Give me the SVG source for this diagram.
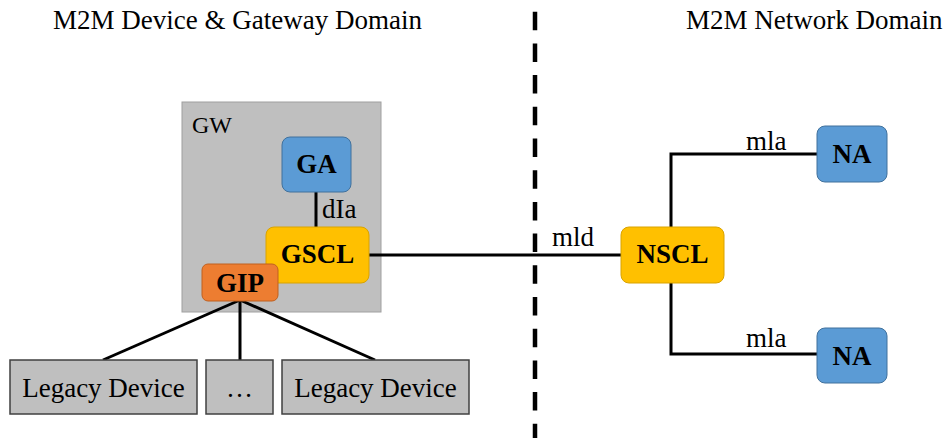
<svg xmlns="http://www.w3.org/2000/svg" width="946" height="438" viewBox="0 0 946 438">
  <style>
    text { font-family: "Liberation Serif", "Times New Roman", serif; fill: #000; }
    .title { font-size: 27px; }
    .lbl { font-size: 27px; }
    .bold { font-size: 27px; font-weight: bold; text-anchor: middle; }
    .dev { font-size: 27px; text-anchor: middle; }
    .wire { stroke: #000; stroke-width: 3; fill: none; }
    .blue { fill: #5B9BD5; stroke: #41719C; stroke-width: 1; }
    .gold { fill: #FFC000; stroke: #D9A300; stroke-width: 1; }
    .orange { fill: #ED7D31; stroke: #C0601F; stroke-width: 1; }
    .legacy { fill: #BFBFBF; stroke: #404040; stroke-width: 1.5; }
  </style>

  <rect width="946" height="438" fill="#fff"/>

  <!-- domain titles -->
  <text class="title" x="53" y="29">M2M Device &amp; Gateway Domain</text>
  <text class="title" x="686" y="29">M2M Network Domain</text>

  <!-- domain boundary -->
  <line x1="535" y1="11.7" x2="535" y2="438" stroke="#000" stroke-width="4.5" stroke-dasharray="18.5 13.2"/>

  <!-- gateway container -->
  <g id="gw">
    <rect x="182" y="102" width="199" height="210" fill="#BFBFBF" stroke="#A0A0A0" stroke-width="1"/>
    <text x="192" y="133" style="font-size:24px">GW</text>
  </g>

  <!-- connectors -->
  <g id="connectors">
    <line class="wire" x1="316" y1="192" x2="316" y2="228" stroke-width="2.5"/>
    <line class="wire" x1="369" y1="255" x2="621" y2="255"/>
    <polyline class="wire" points="671,228 671,154 817,154"/>
    <polyline class="wire" points="671,283 671,354 817,354"/>
    <line class="wire" x1="240" y1="300" x2="103" y2="360"/>
    <line class="wire" x1="240" y1="300" x2="240" y2="360"/>
    <line class="wire" x1="240" y1="300" x2="375" y2="360"/>
    <text class="lbl" x="322" y="218">dIa</text>
    <text class="lbl" x="552" y="246">mld</text>
    <text class="lbl" x="746" y="150">mla</text>
    <text class="lbl" x="746" y="347">mla</text>
  </g>

  <g id="ga">
    <rect class="blue" x="282" y="137" width="69" height="55" rx="8"/>
    <text class="bold" x="316.5" y="173">GA</text>
  </g>

  <g id="gscl">
    <rect class="gold" x="266" y="227" width="103" height="56" rx="8"/>
    <text class="bold" x="317.5" y="263">GSCL</text>
  </g>

  <g id="gip">
    <rect class="orange" x="202" y="264" width="76" height="37" rx="6"/>
    <text class="bold" x="240" y="292">GIP</text>
  </g>

  <g id="nscl">
    <rect class="gold" x="621" y="227" width="103" height="56" rx="8"/>
    <text class="bold" x="672.5" y="263">NSCL</text>
  </g>

  <g id="na-top">
    <rect class="blue" x="817" y="126" width="70" height="56" rx="8"/>
    <text class="bold" x="852" y="163">NA</text>
  </g>

  <g id="na-bottom">
    <rect class="blue" x="817" y="328" width="70" height="55" rx="8"/>
    <text class="bold" x="852" y="365">NA</text>
  </g>

  <g id="legacy-1">
    <rect class="legacy" x="10" y="360" width="187" height="54"/>
    <text class="dev" x="103.5" y="397">Legacy Device</text>
  </g>

  <g id="legacy-more">
    <rect class="legacy" x="206" y="360" width="67" height="54"/>
    <text class="dev" x="239.5" y="397">…</text>
  </g>

  <g id="legacy-2">
    <rect class="legacy" x="282" y="360" width="187" height="54"/>
    <text class="dev" x="375.5" y="397">Legacy Device</text>
  </g>
</svg>
